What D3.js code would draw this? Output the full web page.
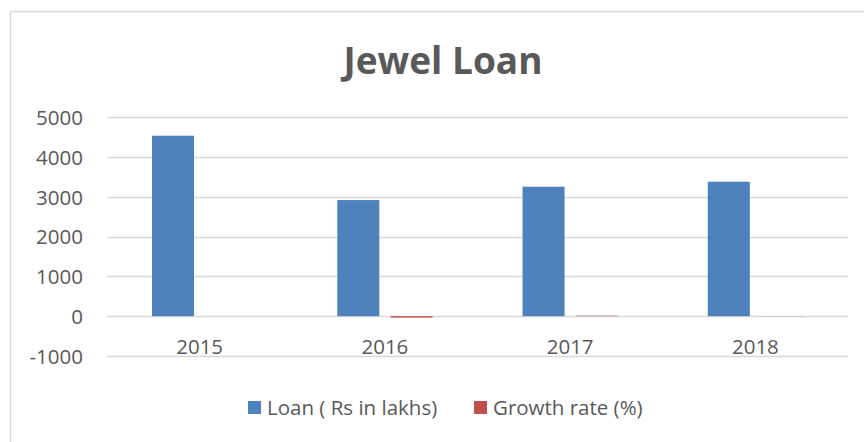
<!DOCTYPE html>
<html>
<head>
<meta charset="utf-8">
<script src="https://cdn.jsdelivr.net/npm/d3@7"></script>
<style>
  html, body { margin: 0; padding: 0; background: #fff; }
  svg { display: block; }
</style>
</head>
<body>
<script>
const categories = ["2015", "2016", "2017", "2018"];
const loanValues = [4530, 2915, 3250, 3375];
const growthValues = [0, -35.6, 11.5, 3.8];
const seriesNames = ["Loan ( Rs in lakhs)", "Growth rate (%)"];
const yTicks = [-1000, 0, 1000, 2000, 3000, 4000, 5000];

const W = 864, H = 442;
const colors = ["#4F81BD", "#C0504D"];
const font = "'Open Sans', sans-serif";
const textColor = "#595959";
const fs = 20.5;

const svg = d3.select("body").append("svg").attr("width", W).attr("height", H);

// chart border
svg.append("rect").attr("x", 10.5).attr("y", 11.5).attr("width", 880).attr("height", 460)
  .attr("fill", "#fff").attr("stroke", "#D9D9D9").attr("stroke-width", 1.5);

const plot = { left: 107, right: 848, top: 117, bottom: 356 };

const x = d3.scaleBand().domain(categories).range([plot.left, plot.right]);
const y = d3.scaleLinear().domain([-1000, 5000]).range([plot.bottom, plot.top]);

const bw = x.bandwidth();
const barW = bw * 0.227;
const gap = bw * 0.06;
const groupW = barW * 2 + gap;

// gridlines
svg.append("g").selectAll("line").data(yTicks).join("line")
  .attr("x1", plot.left).attr("x2", plot.right)
  .attr("y1", d => Math.round(y(d)) + 0.5).attr("y2", d => Math.round(y(d)) + 0.5)
  .attr("stroke", "#D9D9D9").attr("stroke-width", 1.3);

// y axis labels
const yAxis = d3.axisLeft(y).tickValues(yTicks).tickSize(0).tickPadding(0).tickFormat(d => String(d));
const gy = svg.append("g").attr("transform", `translate(83,0)`).call(yAxis);
gy.select(".domain").remove();
gy.selectAll("text").attr("font-family", font).attr("font-size", fs).attr("fill", textColor)
  .attr("dy", "0.36em");

// bars
const series = [loanValues, growthValues];
series.forEach((vals, si) => {
  svg.append("g").selectAll("rect").data(vals).join("rect")
    .attr("x", (d, i) => x(categories[i]) + (bw - groupW) / 2 + si * (barW + gap))
    .attr("y", d => y(Math.max(0, d)))
    .attr("width", barW)
    .attr("height", d => Math.abs(y(d) - y(0)))
    .attr("fill", colors[si]);
});

// x axis labels
const xAxis = d3.axisBottom(x).tickSize(0).tickPadding(0);
const gx = svg.append("g").attr("transform", `translate(0,${y(0)})`).call(xAxis);
gx.select(".domain").remove();
gx.selectAll("text").attr("font-family", font).attr("font-size", fs).attr("fill", textColor)
  .attr("dy", "0").attr("y", 38);

// title
svg.append("text").attr("x", 443).attr("y", 73.5).attr("text-anchor", "middle")
  .attr("font-family", font).attr("font-weight", "bold").attr("font-size", 37)
  .attr("fill", textColor).text("Jewel Loan");

// legend
const legendItems = [
  { name: seriesNames[0], color: colors[0], x: 248 },
  { name: seriesNames[1], color: colors[1], x: 474 }
];
const lg = svg.append("g");
legendItems.forEach(it => {
  lg.append("rect").attr("x", it.x).attr("y", 401).attr("width", 13).attr("height", 13).attr("fill", it.color);
  lg.append("text").attr("x", it.x + 19).attr("y", 415)
    .attr("font-family", font).attr("font-size", fs).attr("fill", textColor).text(it.name);
});
</script>
</body>
</html>
